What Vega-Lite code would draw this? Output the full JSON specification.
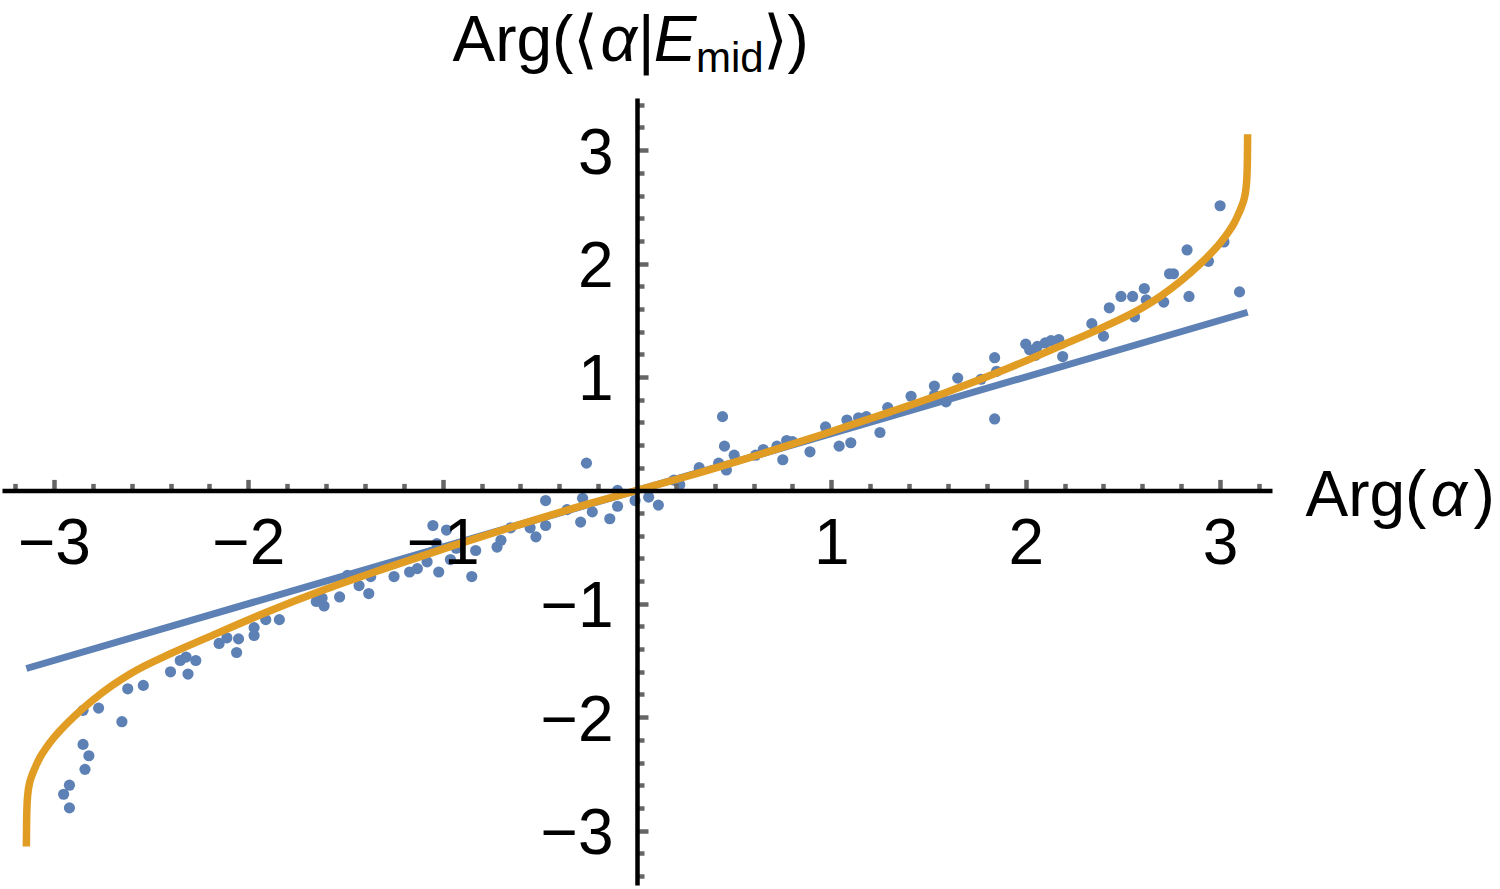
{
  "$schema": "https://vega.github.io/schema/vega-lite/v6.json",
  "width": 1270,
  "height": 787,
  "autosize": {"type": "none"},
  "padding": {"left": 2, "top": 98, "right": 228, "bottom": 4},
  "background": "white",
  "config": {"view": {"stroke": null}, "font": "Liberation Sans"},
  "title": {
    "text": "mid",
    "anchor": "start",
    "frame": "group",
    "orient": "top",
    "offset": 0,
    "dx": 694,
    "dy": 105,
    "font": "Liberation Sans",
    "fontSize": 42,
    "fontWeight": "normal",
    "color": "black",
    "baseline": "alphabetic"
  },
  "datasets": {
    "scatter": [
      {"arg_alpha": -2.92, "arg_proj": -2.80}, {"arg_alpha": -2.95, "arg_proj": -2.68},
      {"arg_alpha": -2.92, "arg_proj": -2.60}, {"arg_alpha": -2.84, "arg_proj": -2.46},
      {"arg_alpha": -2.82, "arg_proj": -2.34}, {"arg_alpha": -2.85, "arg_proj": -2.24},
      {"arg_alpha": -2.85, "arg_proj": -1.94}, {"arg_alpha": -2.77, "arg_proj": -1.92},
      {"arg_alpha": -2.65, "arg_proj": -2.04}, {"arg_alpha": -2.62, "arg_proj": -1.75},
      {"arg_alpha": -2.54, "arg_proj": -1.72}, {"arg_alpha": -2.40, "arg_proj": -1.60},
      {"arg_alpha": -2.35, "arg_proj": -1.50}, {"arg_alpha": -2.32, "arg_proj": -1.47},
      {"arg_alpha": -2.31, "arg_proj": -1.62}, {"arg_alpha": -2.27, "arg_proj": -1.50},
      {"arg_alpha": -2.15, "arg_proj": -1.35}, {"arg_alpha": -2.11, "arg_proj": -1.30},
      {"arg_alpha": -2.05, "arg_proj": -1.31}, {"arg_alpha": -2.06, "arg_proj": -1.43},
      {"arg_alpha": -1.97, "arg_proj": -1.21}, {"arg_alpha": -1.97, "arg_proj": -1.28},
      {"arg_alpha": -1.91, "arg_proj": -1.14}, {"arg_alpha": -1.84, "arg_proj": -1.14},
      {"arg_alpha": -1.65, "arg_proj": -0.98}, {"arg_alpha": -1.61, "arg_proj": -1.02},
      {"arg_alpha": -1.62, "arg_proj": -0.95}, {"arg_alpha": -1.53, "arg_proj": -0.94},
      {"arg_alpha": -1.49, "arg_proj": -0.75}, {"arg_alpha": -1.43, "arg_proj": -0.84},
      {"arg_alpha": -1.38, "arg_proj": -0.91}, {"arg_alpha": -1.37, "arg_proj": -0.76},
      {"arg_alpha": -1.25, "arg_proj": -0.76}, {"arg_alpha": -1.17, "arg_proj": -0.72},
      {"arg_alpha": -1.13, "arg_proj": -0.69}, {"arg_alpha": -1.08, "arg_proj": -0.63},
      {"arg_alpha": -1.05, "arg_proj": -0.31}, {"arg_alpha": -1.03, "arg_proj": -0.47},
      {"arg_alpha": -1.02, "arg_proj": -0.72}, {"arg_alpha": -0.98, "arg_proj": -0.35},
      {"arg_alpha": -0.96, "arg_proj": -0.61}, {"arg_alpha": -0.93, "arg_proj": -0.51},
      {"arg_alpha": -0.85, "arg_proj": -0.76}, {"arg_alpha": -0.83, "arg_proj": -0.53},
      {"arg_alpha": -0.72, "arg_proj": -0.50}, {"arg_alpha": -0.70, "arg_proj": -0.44},
      {"arg_alpha": -0.65, "arg_proj": -0.33}, {"arg_alpha": -0.55, "arg_proj": -0.33},
      {"arg_alpha": -0.52, "arg_proj": -0.41}, {"arg_alpha": -0.47, "arg_proj": -0.09},
      {"arg_alpha": -0.47, "arg_proj": -0.31}, {"arg_alpha": -0.36, "arg_proj": -0.17},
      {"arg_alpha": -0.29, "arg_proj": -0.28}, {"arg_alpha": -0.28, "arg_proj": -0.07},
      {"arg_alpha": -0.26, "arg_proj": 0.24}, {"arg_alpha": -0.23, "arg_proj": -0.19},
      {"arg_alpha": -0.14, "arg_proj": -0.25}, {"arg_alpha": -0.10, "arg_proj": -0.14},
      {"arg_alpha": -0.10, "arg_proj": 0.00}, {"arg_alpha": -0.01, "arg_proj": -0.09},
      {"arg_alpha": 0.06, "arg_proj": -0.06}, {"arg_alpha": 0.11, "arg_proj": -0.13},
      {"arg_alpha": 0.19, "arg_proj": 0.09}, {"arg_alpha": 0.22, "arg_proj": 0.05},
      {"arg_alpha": 0.32, "arg_proj": 0.20}, {"arg_alpha": 0.42, "arg_proj": 0.24},
      {"arg_alpha": 0.44, "arg_proj": 0.65}, {"arg_alpha": 0.45, "arg_proj": 0.39},
      {"arg_alpha": 0.46, "arg_proj": 0.18}, {"arg_alpha": 0.50, "arg_proj": 0.31},
      {"arg_alpha": 0.61, "arg_proj": 0.31}, {"arg_alpha": 0.65, "arg_proj": 0.36},
      {"arg_alpha": 0.72, "arg_proj": 0.39}, {"arg_alpha": 0.75, "arg_proj": 0.27},
      {"arg_alpha": 0.77, "arg_proj": 0.44}, {"arg_alpha": 0.80, "arg_proj": 0.43},
      {"arg_alpha": 0.89, "arg_proj": 0.34}, {"arg_alpha": 0.97, "arg_proj": 0.56},
      {"arg_alpha": 1.04, "arg_proj": 0.39}, {"arg_alpha": 1.10, "arg_proj": 0.42},
      {"arg_alpha": 1.08, "arg_proj": 0.62}, {"arg_alpha": 1.14, "arg_proj": 0.64},
      {"arg_alpha": 1.18, "arg_proj": 0.65}, {"arg_alpha": 1.25, "arg_proj": 0.51},
      {"arg_alpha": 1.29, "arg_proj": 0.73}, {"arg_alpha": 1.41, "arg_proj": 0.83},
      {"arg_alpha": 1.53, "arg_proj": 0.92}, {"arg_alpha": 1.53, "arg_proj": 0.84},
      {"arg_alpha": 1.59, "arg_proj": 0.78}, {"arg_alpha": 1.65, "arg_proj": 0.99},
      {"arg_alpha": 1.77, "arg_proj": 0.98}, {"arg_alpha": 1.84, "arg_proj": 1.17},
      {"arg_alpha": 1.84, "arg_proj": 0.63}, {"arg_alpha": 1.85, "arg_proj": 1.05},
      {"arg_alpha": 2.00, "arg_proj": 1.29}, {"arg_alpha": 2.02, "arg_proj": 1.24},
      {"arg_alpha": 2.06, "arg_proj": 1.27}, {"arg_alpha": 2.10, "arg_proj": 1.30},
      {"arg_alpha": 2.13, "arg_proj": 1.32}, {"arg_alpha": 2.17, "arg_proj": 1.33},
      {"arg_alpha": 2.19, "arg_proj": 1.18}, {"arg_alpha": 2.05, "arg_proj": 1.19},
      {"arg_alpha": 2.34, "arg_proj": 1.47}, {"arg_alpha": 2.40, "arg_proj": 1.36},
      {"arg_alpha": 2.43, "arg_proj": 1.61}, {"arg_alpha": 2.49, "arg_proj": 1.71},
      {"arg_alpha": 2.55, "arg_proj": 1.71}, {"arg_alpha": 2.56, "arg_proj": 1.53},
      {"arg_alpha": 2.61, "arg_proj": 1.78}, {"arg_alpha": 2.62, "arg_proj": 1.68},
      {"arg_alpha": 2.71, "arg_proj": 1.66}, {"arg_alpha": 2.74, "arg_proj": 1.91},
      {"arg_alpha": 2.76, "arg_proj": 1.91}, {"arg_alpha": 2.83, "arg_proj": 2.12},
      {"arg_alpha": 2.84, "arg_proj": 1.71}, {"arg_alpha": 2.94, "arg_proj": 2.02},
      {"arg_alpha": 3.02, "arg_proj": 2.19}, {"arg_alpha": 3.00, "arg_proj": 2.51},
      {"arg_alpha": 3.10, "arg_proj": 1.75}
    ],
    "linear": [
      {"arg_alpha": -3.1416, "arg_proj": -1.5708},
      {"arg_alpha": 3.1416, "arg_proj": 1.5708}
    ],
    "curve": [
      {"arg_alpha": -3.1416, "arg_proj": -3.14}, {"arg_alpha": -3.1405, "arg_proj": -2.93},
      {"arg_alpha": -3.138, "arg_proj": -2.77}, {"arg_alpha": -3.133, "arg_proj": -2.66},
      {"arg_alpha": -3.125, "arg_proj": -2.58}, {"arg_alpha": -3.11, "arg_proj": -2.50},
      {"arg_alpha": -3.09, "arg_proj": -2.42}, {"arg_alpha": -3.07, "arg_proj": -2.35},
      {"arg_alpha": -3.04, "arg_proj": -2.27}, {"arg_alpha": -3.00, "arg_proj": -2.18},
      {"arg_alpha": -2.95, "arg_proj": -2.085}, {"arg_alpha": -2.90, "arg_proj": -2.00},
      {"arg_alpha": -2.80, "arg_proj": -1.85}, {"arg_alpha": -2.70, "arg_proj": -1.72},
      {"arg_alpha": -2.60, "arg_proj": -1.61}, {"arg_alpha": -2.40, "arg_proj": -1.44},
      {"arg_alpha": -2.20, "arg_proj": -1.29}, {"arg_alpha": -1.90, "arg_proj": -1.07},
      {"arg_alpha": -1.60, "arg_proj": -0.87}, {"arg_alpha": -1.30, "arg_proj": -0.69},
      {"arg_alpha": -0.95, "arg_proj": -0.49}, {"arg_alpha": -0.60, "arg_proj": -0.30},
      {"arg_alpha": -0.25, "arg_proj": -0.12}, {"arg_alpha": 0, "arg_proj": 0},
      {"arg_alpha": 0.25, "arg_proj": 0.12}, {"arg_alpha": 0.60, "arg_proj": 0.30},
      {"arg_alpha": 0.95, "arg_proj": 0.49}, {"arg_alpha": 1.30, "arg_proj": 0.69},
      {"arg_alpha": 1.60, "arg_proj": 0.87}, {"arg_alpha": 1.90, "arg_proj": 1.07},
      {"arg_alpha": 2.20, "arg_proj": 1.29}, {"arg_alpha": 2.40, "arg_proj": 1.44},
      {"arg_alpha": 2.60, "arg_proj": 1.61}, {"arg_alpha": 2.70, "arg_proj": 1.72},
      {"arg_alpha": 2.80, "arg_proj": 1.85}, {"arg_alpha": 2.90, "arg_proj": 2.00},
      {"arg_alpha": 2.95, "arg_proj": 2.085}, {"arg_alpha": 3.00, "arg_proj": 2.18},
      {"arg_alpha": 3.04, "arg_proj": 2.27}, {"arg_alpha": 3.07, "arg_proj": 2.35},
      {"arg_alpha": 3.09, "arg_proj": 2.42}, {"arg_alpha": 3.11, "arg_proj": 2.50},
      {"arg_alpha": 3.125, "arg_proj": 2.58}, {"arg_alpha": 3.133, "arg_proj": 2.66},
      {"arg_alpha": 3.138, "arg_proj": 2.77}, {"arg_alpha": 3.1405, "arg_proj": 2.93},
      {"arg_alpha": 3.1416, "arg_proj": 3.14}
    ]
  },
  "layer": [
    {
      "data": {"name": "scatter"},
      "mark": {"type": "circle", "size": 125, "color": "#5E81B5", "opacity": 1},
      "encoding": {
        "x": {
          "field": "arg_alpha",
          "type": "quantitative",
          "scale": {"domain": [-3.267, 3.267], "nice": false, "zero": false},
          "axis": {
            "orient": "bottom", "offset": -394.6, "zindex": 1,
            "values": [-3, -2, -1, 1, 2, 3],
            "domain": false, "grid": false,
            "tickSize": -11, "tickWidth": 4.5, "tickColor": "#666666",
            "labelFont": "Liberation Sans", "labelFontSize": 64, "labelColor": "black",
            "labelPadding": 33, "labelFlush": false, "labelOverlap": false,
            "title": "Arg(", "titleFont": "Liberation Sans", "titleFontSize": 64,
            "titleFontWeight": "normal", "titleColor": "black", "titleAngle": 0,
            "titleAlign": "left", "titleBaseline": "alphabetic",
            "titleX": 1303, "titleY": 24.6
          }
        },
        "y": {
          "field": "arg_proj",
          "type": "quantitative",
          "scale": {"domain": [-3.48, 3.46], "nice": false, "zero": false},
          "axis": {
            "orient": "left", "offset": -635, "zindex": 1,
            "values": [-3, -2, -1, 1, 2, 3],
            "domain": false, "grid": false,
            "tickSize": -11, "tickWidth": 4.5, "tickColor": "#666666",
            "labelFont": "Liberation Sans", "labelFontSize": 64, "labelColor": "black",
            "labelPadding": 35, "labelOffset": 4, "labelFlush": false, "labelOverlap": false,
            "title": "Arg(⟨", "titleFont": "Liberation Sans", "titleFontSize": 64,
            "titleFontWeight": "normal", "titleColor": "black", "titleAngle": 0,
            "titleAlign": "left", "titleBaseline": "alphabetic",
            "titleX": -185, "titleY": -38
          }
        }
      }
    },
    {
      "data": {"name": "linear"},
      "mark": {"type": "line", "color": "#5E81B5", "strokeWidth": 7, "strokeCap": "butt"},
      "encoding": {
        "x": {
          "field": "arg_alpha",
          "type": "quantitative",
          "scale": {"domain": [-3.267, 3.267], "nice": false, "zero": false},
          "axis": {
            "orient": "bottom", "offset": -394.6, "zindex": 1,
            "values": [-3.2, -2.8, -2.6, -2.4, -2.2, -1.8, -1.6, -1.4, -1.2, -0.8, -0.6, -0.4, -0.2, 0.2, 0.4, 0.6, 0.8, 1.2, 1.4, 1.6, 1.8, 2.2, 2.4, 2.6, 2.8, 3.2],
            "domain": false, "grid": false, "labels": false,
            "tickSize": -7, "tickWidth": 4.5, "tickColor": "#666666",
            "title": "α", "titleFont": "Liberation Sans", "titleFontSize": 64,
            "titleFontWeight": "normal", "titleFontStyle": "italic", "titleColor": "black",
            "titleAngle": 0, "titleAlign": "left", "titleBaseline": "alphabetic",
            "titleX": 1428, "titleY": 24.6
          }
        },
        "y": {
          "field": "arg_proj",
          "type": "quantitative",
          "scale": {"domain": [-3.48, 3.46], "nice": false, "zero": false},
          "axis": {
            "orient": "left", "offset": -635, "zindex": 1,
            "values": [-3.4, -3.2, -2.8, -2.6, -2.4, -2.2, -1.8, -1.6, -1.4, -1.2, -0.8, -0.6, -0.4, -0.2, 0.2, 0.4, 0.6, 0.8, 1.2, 1.4, 1.6, 1.8, 2.2, 2.4, 2.6, 2.8, 3.2, 3.4],
            "domain": false, "grid": false, "labels": false,
            "tickSize": -7, "tickWidth": 4.5, "tickColor": "#666666",
            "title": "α|E", "titleFont": "Liberation Sans", "titleFontSize": 64,
            "titleFontWeight": "normal", "titleFontStyle": "italic", "titleColor": "black",
            "titleAngle": 0, "titleAlign": "left", "titleBaseline": "alphabetic",
            "titleX": -37, "titleY": -38
          }
        }
      }
    },
    {
      "data": {"name": "curve"},
      "mark": {"type": "line", "color": "#E19C24", "strokeWidth": 7.5, "strokeCap": "butt", "interpolate": "monotone"},
      "encoding": {
        "x": {
          "field": "arg_alpha",
          "type": "quantitative",
          "scale": {"domain": [-3.267, 3.267], "nice": false, "zero": false},
          "axis": {
            "orient": "bottom", "offset": -394.6, "zindex": 1,
            "domain": true, "domainColor": "black", "domainWidth": 4.5,
            "ticks": false, "labels": false, "grid": false,
            "title": ")", "titleFont": "Liberation Sans", "titleFontSize": 64,
            "titleFontWeight": "normal", "titleColor": "black", "titleAngle": 0,
            "titleAlign": "left", "titleBaseline": "alphabetic",
            "titleX": 1471, "titleY": 24.6
          }
        },
        "y": {
          "field": "arg_proj",
          "type": "quantitative",
          "scale": {"domain": [-3.48, 3.46], "nice": false, "zero": false},
          "axis": {
            "orient": "left", "offset": -635, "zindex": 1,
            "domain": true, "domainColor": "black", "domainWidth": 4.5,
            "ticks": false, "labels": false, "grid": false,
            "title": "⟩)", "titleFont": "Liberation Sans", "titleFontSize": 64,
            "titleFontWeight": "normal", "titleColor": "black", "titleAngle": 0,
            "titleAlign": "left", "titleBaseline": "alphabetic",
            "titleX": 125, "titleY": -38
          }
        }
      }
    }
  ],
  "resolve": {"axis": {"x": "independent", "y": "independent"}}
}
